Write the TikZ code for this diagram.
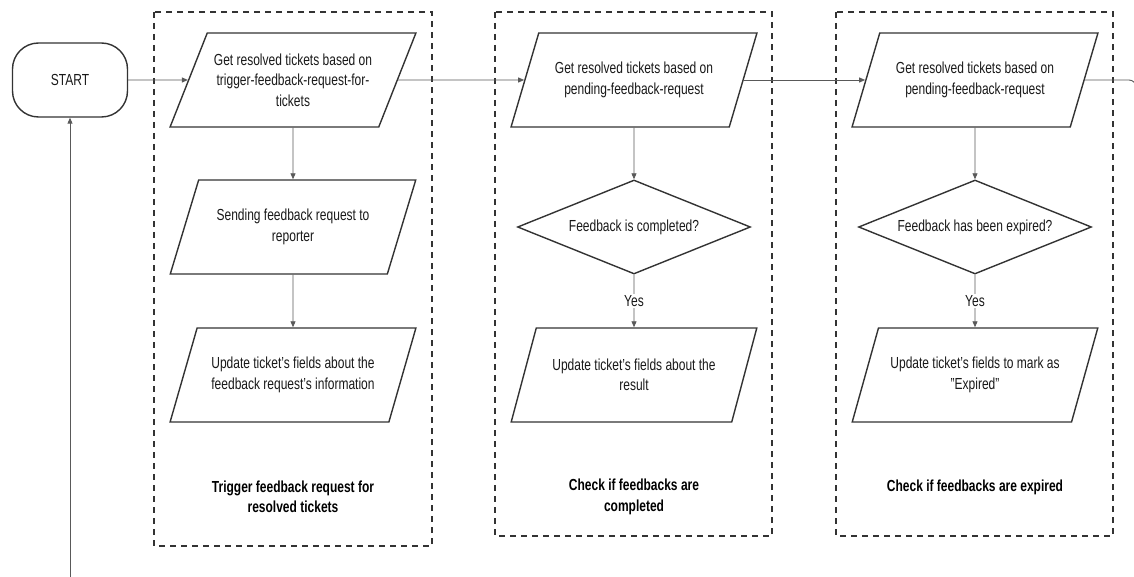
\documentclass[tikz,border=0pt]{standalone}
\usepackage{fontspec}
\setmainfont[FakeStretch=0.75]{Liberation Sans}
\usetikzlibrary{shapes.geometric,arrows.meta}
\begin{document}
\begin{tikzpicture}[x=1pt,y=-1pt,
  font=\fontsize{16}{20.5}\selectfont,
  para/.style={draw=black!80, line width=1.4pt, trapezium, trapezium left angle=57, trapezium right angle=123, trapezium stretches=true, minimum width=246pt, minimum height=94pt, align=center, inner sep=0pt, text=black!90},
  dec/.style={draw=black!80, line width=1.4pt, diamond, aspect=2.48, minimum width=233pt, minimum height=94pt, inner sep=0pt, text=black!90},
  term/.style={draw=black!80, line width=1.4pt, rectangle, rounded corners=26pt, minimum width=115pt, minimum height=74pt, text=black!90},
  group/.style={draw=black!80, line width=1.3pt, dash pattern=on 6pt off 5pt},
  flow/.style={draw=black!65, line width=0.9pt, -{Triangle[length=6pt,width=5pt]}},
  lab/.style={font=\bfseries\fontsize{16}{20.5}\selectfont, align=center, text=black},
  yes/.style={fill=white, inner sep=1pt, text=black!90}
]
\useasboundingbox (0,0) rectangle (1134,577);

% groups
\draw[group] (154,12) rectangle (432,546);
\draw[group] (495,12) rectangle (772,536);
\draw[group] (836,12) rectangle (1113,536);

% start
\node[term] (start) at (70,80) {START};
\coordinate (loopin) at (70,580);

% column 1
\node[para] (a1) at (293,80) {Get resolved tickets based on\\trigger-feedback-request-for-\\tickets};
\node[para] (a2) at (293,227) {Sending feedback request to\\reporter};
\node[para] (a3) at (293,375) {Update ticket's fields about the\\feedback request's information};
\node[lab] (l1) at (293,497) {Trigger feedback request for\\resolved tickets};

% column 2
\node[para] (b1) at (634,80) {Get resolved tickets based on\\pending-feedback-request};
\node[dec] (b2) at (634,227) {Feedback is completed?};
\node[para] (b3) at (634,375) {Update ticket's fields about the\\result};
\node[lab] (l2) at (634,497) {Check if feedbacks are\\completed};

% column 3
\node[para] (c1) at (975,80) {Get resolved tickets based on\\pending-feedback-request};
\node[dec] (c2) at (975,227) {Feedback has been expired?};
\node[para] (c3) at (975,375) {Update ticket's fields to mark as\\"Expired"};
\node[lab] (l3) at (975,487) {Check if feedbacks are expired};

\coordinate (outA) at (1136,80);
\coordinate (outB) at (1136,130);

% connectors
\draw[flow] (start.east) -- (a1.west);
\draw[flow] (a1.east) -- (b1.west);
\draw[flow] (b1.east) -- (c1.west);
\draw[draw=black!65, line width=0.9pt, rounded corners=7pt] (c1.east) -- (outA) -- (outB);
\draw[flow] (loopin) -- (start.south);

\draw[flow] (a1.south) -- (a2.north);
\draw[flow] (a2.south) -- (a3.north);

\draw[flow] (b1.south) -- (b2.north);
\draw[flow] (b2.south) -- node[yes] {Yes} (b3.north);

\draw[flow] (c1.south) -- (c2.north);
\draw[flow] (c2.south) -- node[yes] {Yes} (c3.north);
\end{tikzpicture}
\end{document}
